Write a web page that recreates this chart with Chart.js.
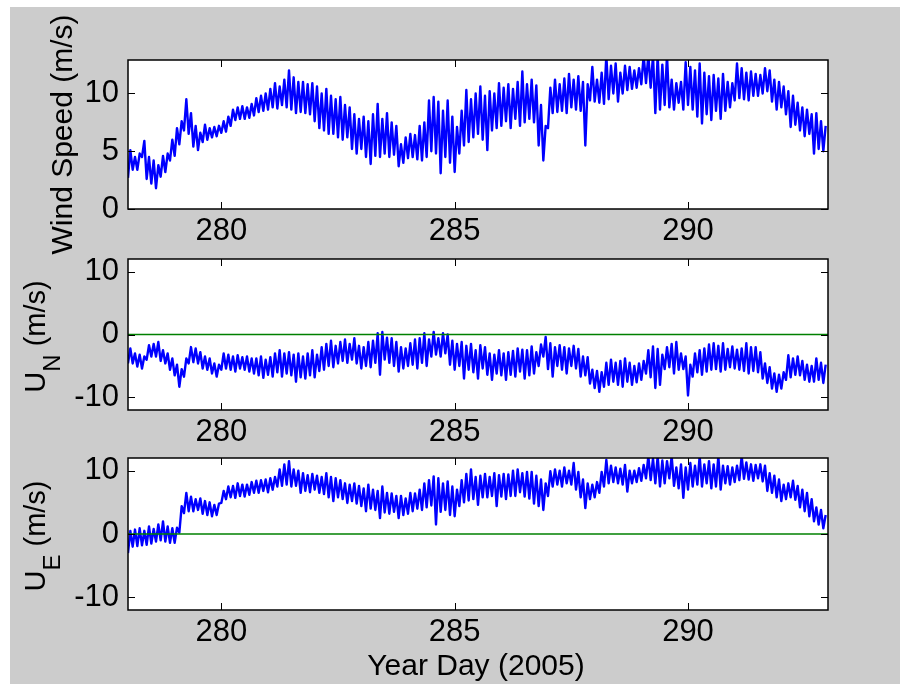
<!DOCTYPE html>
<html>
<head>
<meta charset="utf-8">
<script src="https://cdn.jsdelivr.net/npm/chart.js@4.4.1/dist/chart.umd.min.js"></script>
<style>
html,body{margin:0;padding:0;background:#fff;}
#fig{position:relative;width:900px;height:684px;background:#fff;overflow:hidden;}
#bg{position:absolute;left:10px;top:7px;right:0;bottom:0;background:#cccccc;}
canvas{position:absolute;left:0;top:0;}
</style>
</head>
<body>
<div id="fig"><div id="bg"></div>
<canvas id="c1" width="900" height="684"></canvas>
<canvas id="c2" width="900" height="684"></canvas>
<canvas id="c3" width="900" height="684"></canvas>
</div>
<script>
// ---------------- data ----------------
// sampling: one low/high pair per 0.1 day, starting at day 278.0
const dayStart = 278.0;
const dayStep = 0.1;

const xTicks = [280, 285, 290];
const windTicks = [0, 5, 10];
const compTicks = [-10, 0, 10];

const zeroLineDays = [278, 293];
const zeroLineValues = [0, 0];

// Wind speed (m/s): lower / upper envelope of the noisy trace
const windLo = [
 2.7,3.4,3.4,4.5,2.6,2.2,1.8,2.8,3.2,4.2,
 4.6,5.6,6.8,6.5,5.4,5.1,5.8,6.0,6.2,6.3,
 6.6,6.7,7.2,7.7,7.8,7.8,7.9,8.1,8.4,8.5,
 8.6,8.8,8.7,9.0,8.8,8.6,8.3,8.4,8.3,8.2,
 7.6,7.0,6.8,6.5,6.5,6.2,6.0,6.2,5.2,4.8,
 5.2,4.5,3.9,4.6,4.5,4.8,4.5,4.7,3.7,4.0,
 4.4,4.5,4.3,4.2,4.5,5.0,4.8,3.1,4.5,4.0,
 3.2,4.8,5.5,5.8,6.2,6.5,6.0,5.1,6.8,7.0,
 7.2,7.6,7.0,7.8,7.2,7.5,7.8,7.5,5.5,4.2,
 7.0,8.3,8.4,8.5,8.3,8.8,8.6,8.5,5.5,9.4,
 9.3,9.2,9.1,9.5,10.0,9.3,10.0,10.3,10.4,10.5,
 10.8,10.9,10.5,8.3,8.6,9.0,8.8,8.6,9.2,8.6,
 9.0,8.6,8.0,7.4,8.2,7.7,8.5,7.8,8.5,8.8,
 9.4,9.6,9.5,9.4,9.8,9.8,10.0,10.2,9.3,8.6,
 8.8,8.2,7.1,7.3,6.8,6.3,6.5,4.8,5.2,5.0
];
const windHi = [
 5.1,4.5,4.8,5.9,4.5,4.2,3.8,4.6,4.8,6.0,
 7.0,7.6,9.5,8.3,7.2,6.6,7.3,7.0,7.1,7.2,
 7.6,8.0,8.6,8.8,8.9,8.8,9.1,9.6,9.8,10.0,
 10.4,10.9,10.6,11.2,12.0,11.4,11.0,11.0,10.8,10.9,
 10.6,10.0,10.4,9.8,9.5,9.7,9.0,8.8,8.2,7.8,
 8.0,7.6,8.2,9.1,7.8,8.3,7.5,7.2,5.6,6.2,
 6.5,6.4,7.2,7.5,9.4,9.7,9.3,8.5,9.4,8.0,
 7.1,8.5,10.3,9.5,10.0,10.6,9.8,10.2,10.0,10.9,
 10.5,10.8,10.4,11.0,11.9,10.8,11.2,10.7,9.0,7.2,
 10.5,11.2,10.8,11.3,11.7,11.2,11.5,11.0,10.8,12.3,
 11.2,11.8,13.3,12.4,12.6,11.8,12.4,12.3,12.0,12.2,
 13.3,13.3,13.3,13.3,12.5,13.3,11.2,10.9,11.0,12.7,
 12.3,12.0,12.6,11.8,11.5,11.6,11.3,11.7,11.0,10.9,
 12.6,12.2,11.8,11.9,11.7,11.6,12.2,12.0,11.2,11.0,
 10.6,10.2,9.8,9.2,8.8,8.6,8.2,8.3,7.6,7.2
];

// U_N (m/s)
const unLo = [
 -4.6,-4.6,-5.1,-5.4,-4.0,-3.5,-3.5,-4.2,-4.6,-5.6,
 -6.5,-8.3,-6.7,-4.6,-4.4,-4.6,-5.4,-5.6,-6.2,-6.7,
 -5.6,-5.4,-5.6,-5.9,-5.4,-5.6,-5.9,-6.2,-6.5,-6.9,
 -6.4,-6.7,-6.0,-6.7,-6.2,-6.5,-7.5,-6.8,-7.0,-6.5,
 -6.8,-5.8,-5.6,-5.0,-5.2,-4.6,-4.2,-4.5,-4.0,-4.6,
 -5.4,-5.0,-5.2,-4.5,-6.4,-4.0,-4.5,-5.0,-5.9,-5.4,
 -5.0,-4.8,-5.4,-4.5,-5.0,-3.5,-3.2,-3.5,-3.0,-4.8,
 -5.6,-5.0,-7.0,-5.6,-6.0,-7.0,-5.4,-6.4,-7.2,-6.2,
 -6.5,-7.2,-6.4,-6.7,-5.9,-7.0,-6.5,-6.2,-5.0,-3.5,
 -5.5,-6.7,-5.0,-5.6,-6.2,-5.0,-5.4,-6.7,-6.5,-7.8,
 -8.5,-9.1,-8.3,-8.0,-7.5,-8.0,-8.3,-7.5,-8.0,-7.6,
 -7.2,-6.2,-6.8,-8.5,-8.0,-5.5,-5.2,-6.2,-5.6,-5.5,
 -9.7,-6.7,-6.0,-6.4,-5.9,-5.6,-5.5,-5.9,-5.6,-5.2,
 -5.4,-5.6,-5.8,-6.2,-5.8,-6.0,-7.0,-7.7,-8.6,-9.1,
 -8.6,-7.2,-6.8,-6.4,-6.5,-7.2,-7.5,-7.5,-7.2,-7.7
];
const unHi = [
 -2.2,-3.0,-3.2,-3.5,-1.7,-1.5,-1.2,-2.5,-3.0,-3.8,
 -4.8,-5.5,-3.8,-2.0,-2.2,-2.8,-3.5,-3.8,-4.6,-4.8,
 -3.0,-3.2,-3.5,-3.3,-3.6,-3.5,-3.8,-3.8,-3.5,-4.0,
 -3.6,-3.0,-2.5,-3.0,-2.8,-3.2,-3.0,-3.5,-3.0,-2.5,
 -3.2,-2.0,-1.5,-1.0,-1.8,-1.2,-0.8,-1.5,-0.6,-1.8,
 -2.0,-1.2,-1.0,0.2,0.4,-0.5,-0.6,-1.2,-2.0,-2.2,
 -1.4,-0.8,-0.6,0.2,-0.8,0.4,-0.6,0.2,0.0,-1.0,
 -1.5,-1.2,-1.8,-1.5,-2.5,-1.7,-2.0,-3.0,-3.2,-2.5,
 -3.0,-2.8,-2.6,-2.2,-2.4,-2.5,-1.9,-2.8,-1.6,-0.4,
 -1.4,-2.0,-1.7,-2.0,-2.2,-1.8,-2.3,-3.5,-3.6,-5.6,
 -5.8,-6.0,-4.5,-4.0,-4.5,-4.2,-3.8,-4.5,-5.0,-4.6,
 -4.2,-2.5,-1.9,-2.3,-3.2,-2.0,-1.5,-1.2,-3.0,-3.5,
 -4.8,-3.0,-2.5,-2.2,-1.6,-1.4,-1.8,-1.4,-2.3,-1.9,
 -2.4,-2.2,-1.4,-2.0,-2.0,-2.8,-4.6,-5.2,-6.2,-6.4,
 -6.0,-3.3,-3.8,-3.5,-4.2,-4.8,-5.0,-3.8,-4.5,-4.8
];

// U_E (m/s)
const ueLo = [
 -3.0,-2.0,-1.9,-1.8,-1.7,-1.5,-1.2,-1.0,-1.2,-1.4,
 -1.4,0.2,3.3,3.6,3.6,3.8,3.2,3.0,2.8,3.0,
 4.9,5.5,5.8,5.7,6.0,5.9,6.2,6.5,6.5,6.8,
 6.6,7.0,7.5,7.6,7.8,7.5,7.6,6.5,6.8,6.6,
 7.0,6.5,6.3,5.8,5.2,5.8,5.5,4.9,5.2,4.8,
 4.4,3.6,4.0,3.8,2.5,3.4,3.2,3.5,2.5,3.0,
 3.2,3.6,4.0,3.8,4.2,4.5,1.5,3.5,3.8,3.0,
 2.8,4.4,5.0,5.3,5.5,4.6,5.8,5.8,6.0,4.4,
 5.9,5.5,6.0,6.0,6.6,5.9,5.6,4.8,4.4,3.8,
 6.0,7.5,7.8,7.5,8.0,7.8,7.0,5.8,4.1,5.5,
 5.8,6.5,7.5,8.0,8.2,8.0,7.8,6.7,8.0,8.2,
 8.4,8.8,8.5,8.0,7.5,8.0,8.8,7.6,7.2,5.7,
 7.0,7.5,7.8,7.5,8.0,7.2,7.5,7.0,8.0,7.8,
 8.2,8.5,8.7,8.6,8.4,8.8,8.3,6.8,6.5,5.8,
 5.2,5.5,5.8,5.4,4.2,3.6,2.8,2.0,1.5,0.9
];
const ueHi = [
 0.5,0.7,0.9,0.5,1.2,0.8,1.5,2.0,1.2,0.9,
 1.0,4.4,6.5,5.9,5.5,5.6,5.2,5.0,4.6,4.8,
 6.8,7.5,7.6,8.0,7.8,7.8,8.2,8.4,8.5,8.6,
 8.8,9.0,10.2,11.0,11.5,10.2,10.0,9.6,9.3,9.5,
 9.2,9.0,9.6,9.0,8.8,8.5,8.0,7.8,8.0,7.6,
 7.2,7.8,7.0,6.8,7.5,6.5,6.4,6.0,6.0,5.6,
 6.5,6.4,7.0,8.0,8.5,9.1,8.8,8.0,8.3,7.5,
 7.0,8.5,9.5,10.2,9.0,9.2,9.5,9.0,9.6,9.3,
 9.5,9.4,10.0,10.2,9.6,9.8,9.8,9.2,8.6,8.0,
 9.9,10.2,10.0,10.5,10.0,11.2,9.8,8.6,8.0,7.8,
 8.2,9.8,11.7,10.8,10.5,10.3,10.9,10.0,10.0,10.4,
 10.9,12.3,11.9,12.3,11.6,11.5,12.3,10.5,11.0,10.5,
 11.2,10.8,12.3,11.0,11.5,11.0,12.3,10.8,10.7,10.5,
 10.8,12.3,11.3,11.0,10.9,11.0,10.8,9.6,9.2,8.6,
 7.8,8.0,8.4,7.6,7.0,6.5,5.5,4.2,3.8,3.0
];

// ---------------- helpers ----------------
const FONT = '"Liberation Sans", Arial, Helvetica, sans-serif';
Chart.defaults.font.family = FONT;

// the trace alternates between the low and high reading of each 0.1-day step
function tracePoints(lo, hi) {
  const pts = [];
  for (let i = 0; i < lo.length; i++) {
    const t = dayStart + i * dayStep;
    pts.push({x: t, y: lo[i]});
    pts.push({x: t + dayStep / 2, y: hi[i]});
  }
  return pts;
}
function linePoints(xs, ys) { return xs.map((x, i) => ({x, y: ys[i]})); }

function framePlugin(cfg) {
  return {
    id: 'frame_' + cfg.key,
    beforeDraw(chart) {
      const {ctx, chartArea: a} = chart;
      ctx.save();
      ctx.fillStyle = '#ffffff';
      ctx.fillRect(a.left, a.top, a.right - a.left, a.bottom - a.top);
      ctx.restore();
    },
    afterDatasetsDraw(chart) {
      const {ctx, chartArea: a, scales: {x, y}} = chart;
      ctx.save();
      ctx.strokeStyle = '#000';
      ctx.lineWidth = 1;
      const L = 7;
      ctx.beginPath();
      x.ticks.forEach(t => {
        const px = Math.round(x.getPixelForValue(t.value)) + 0.5;
        ctx.moveTo(px, a.bottom); ctx.lineTo(px, a.bottom - L);
        ctx.moveTo(px, a.top); ctx.lineTo(px, a.top + L);
      });
      y.ticks.forEach(t => {
        const py = Math.round(y.getPixelForValue(t.value)) + 0.5;
        ctx.moveTo(a.left, py); ctx.lineTo(a.left + L, py);
        ctx.moveTo(a.right, py); ctx.lineTo(a.right - L, py);
      });
      ctx.stroke();
      ctx.lineWidth = 1.5;
      ctx.strokeRect(a.left, a.top, a.right - a.left, a.bottom - a.top);

      // rotated y title (with optional subscript)
      ctx.fillStyle = '#000';
      ctx.textAlign = 'left';
      ctx.textBaseline = 'alphabetic';
      let total = 0;
      cfg.yTitle.forEach(p => { ctx.font = p.size + 'px ' + FONT; p.w = ctx.measureText(p.text).width; total += p.w; });
      const cy = (a.top + a.bottom) / 2 + cfg.yTitleShift;
      ctx.save();
      ctx.translate(cfg.yTitleX, cy);
      ctx.rotate(-Math.PI / 2);
      let cx = -total / 2;
      cfg.yTitle.forEach(p => {
        ctx.font = p.size + 'px ' + FONT;
        ctx.fillText(p.text, cx, p.off);
        cx += p.w;
      });
      ctx.restore();

      if (cfg.xTitle) {
        ctx.font = '30px ' + FONT;
        ctx.textAlign = 'center';
        ctx.fillText(cfg.xTitle, (a.left + a.right) / 2 - 2, a.bottom + 65);
      }
      ctx.restore();
    }
  };
}

function makeChart(id, cfg) {
  const datasets = [{
    data: tracePoints(cfg.lo, cfg.hi),
    borderColor: '#0000ff', borderWidth: 2.4, pointRadius: 0, tension: 0,
    borderJoinStyle: 'round', fill: false, order: 1, clip: 0
  }];
  if (cfg.zero) {
    datasets.push({
      data: linePoints(zeroLineDays, zeroLineValues),
      borderColor: '#008000', borderWidth: 1.6, pointRadius: 0, order: 0, fill: false, clip: 0
    });
  }
  const tickFont = {family: FONT, size: 31, lineHeight: 1.2};
  return new Chart(document.getElementById(id), {
    type: 'line',
    data: {datasets},
    options: {
      responsive: false, animation: false, events: [], devicePixelRatio: 1,
      layout: {padding: {left: 0, right: 72, top: cfg.top, bottom: 684 - cfg.bottom - 40}},
      plugins: {legend: {display: false}, tooltip: {enabled: false}},
      scales: {
        x: {
          type: 'linear', min: 278, max: 293,
          grid: {display: false, drawTicks: false}, border: {display: false},
          ticks: {color: '#000', font: tickFont, padding: 4, maxRotation: 0},
          afterBuildTicks: s => { s.ticks = xTicks.map(v => ({value: v})); },
          afterFit: s => { s.height = 40; }
        },
        y: {
          type: 'linear', min: cfg.ymin, max: cfg.ymax,
          grid: {display: false, drawTicks: false}, border: {display: false},
          ticks: {color: '#000', font: tickFont, padding: 9},
          afterBuildTicks: s => { s.ticks = cfg.yTicks.map(v => ({value: v})); },
          afterFit: s => { s.width = 128; }
        }
      }
    },
    plugins: [framePlugin(cfg)]
  });
}

makeChart('c1', {
  key: 'ws', lo: windLo, hi: windHi, zero: false,
  top: 60, bottom: 209, ymin: 0, ymax: 12.9, yTicks: windTicks,
  yTitle: [{text: 'Wind Speed (m/s)', size: 30, off: 0}], yTitleX: 72, yTitleShift: 0
});
makeChart('c2', {
  key: 'un', lo: unLo, hi: unHi, zero: true,
  top: 259, bottom: 410, ymin: -12, ymax: 12, yTicks: compTicks,
  yTitle: [{text: 'U', size: 29, off: 0}, {text: 'N', size: 24, off: 15}, {text: ' (m/s)', size: 29, off: 0}],
  yTitleX: 45, yTitleShift: 2
});
makeChart('c3', {
  key: 'ue', lo: ueLo, hi: ueHi, zero: true,
  top: 458, bottom: 610, ymin: -12, ymax: 12, yTicks: compTicks,
  yTitle: [{text: 'U', size: 29, off: 0}, {text: 'E', size: 24, off: 15}, {text: ' (m/s)', size: 29, off: 0}],
  yTitleX: 45, yTitleShift: 2, xTitle: 'Year Day (2005)'
});
</script>
</body>
</html>
